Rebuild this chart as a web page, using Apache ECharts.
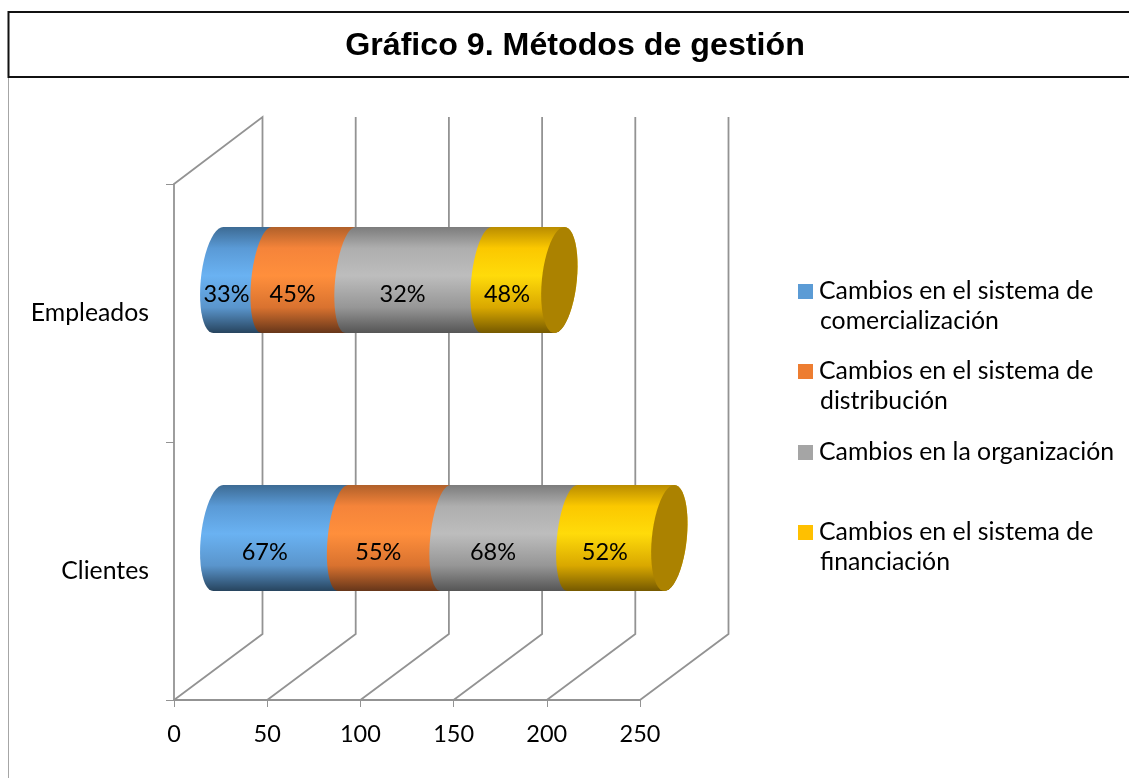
<!DOCTYPE html>
<html lang="es">
<head>
<meta charset="utf-8">
<title>Gráfico 9. Métodos de gestión</title>
<style>
  html, body { margin: 0; padding: 0; background: #fff; }
  #chart { width: 1129px; height: 778px; }
</style>
</head>
<body>
<div id="chart"></div>
<script src="https://cdn.jsdelivr.net/npm/echarts@6/dist/echarts.min.js"></script>
<script>
// Chart content
const chartTitle = 'Gráfico 9. Métodos de gestión';
const categories = ['Clientes', 'Empleados'];
const xTicks = [0, 50, 100, 150, 200, 250];

const seriesNames = [
  'Cambios en el sistema de comercialización',
  'Cambios en el sistema de distribución',
  'Cambios en la organización',
  'Cambios en el sistema de financiación'
];

// Bar lengths on the count axis, [Clientes, Empleados]
const comercializacion = [67, 26];
const distribucion = [55, 45];
const organizacion = [68, 73];
const financiacion = [52, 39];

// Share shown on each segment, [Clientes, Empleados]
const comercializacionPct = ['67%', '33%'];
const distribucionPct = ['55%', '45%'];
const organizacionPct = ['68%', '32%'];
const financiacionPct = ['52%', '48%'];

const seriesValues = [comercializacion, distribucion, organizacion, financiacion];
const seriesLabels = [comercializacionPct, distribucionPct, organizacionPct, financiacionPct];

// Legend wrapping: first line, continuation line
const legendWrap = [
  ['Cambios en el sistema de', 'comercialización'],
  ['Cambios en el sistema de', 'distribución'],
  ['Cambios en la organización', ''],
  ['Cambios en el sistema de', 'financiación']
];

// Styling
const FONT = 'Lato, "Open Sans", sans-serif';
const AXIS_COLOR = '#939393';
const legendColors = ['#5B9BD5', '#ED7D31', '#A5A5A5', '#FFC000'];
const cylinderStops = [
  ['#3d6b94', '#5a9ad6', '#6ab2f2', '#5a95cc', '#27445e'],
  ['#b0602a', '#f5843a', '#ff8f3c', '#d9722f', '#66361a'],
  ['#7c7c7c', '#aeaeae', '#bdbdbd', '#969696', '#555555'],
  ['#b98c00', '#fbc800', '#ffdb0a', '#d9a800', '#755900']
];
const CAP_COLOR = '#ab8200';

// Oblique projection of the floor and walls
const DEPTH_X = 88.5;
const DEPTH_Y = -66;
const RADIUS_X = 15.5;
const OUTER_RADIUS_X = 17.5;
const RADIUS_Y = 53;
const TILT = 5;

const GRID = { left: 174, top: 184, width: 466, height: 516 };
const LEGEND_LEFT = 798;
const legendIconTops = [282, 362, 443, 523];
const LEGEND_LINE_STEP = 31;

// Half an ellipse as points: side -1 is the left half, +1 the right, top to bottom
function halfEllipse(cx, cy, side, rx) {
  const pts = [];
  const n = 24;
  for (let i = 0; i <= n; i++) {
    const a = -Math.PI / 2 + (Math.PI * i) / n;
    const s = Math.sin(a);
    pts.push([cx + side * rx * Math.cos(a) - TILT * s, cy + RADIUS_Y * s]);
  }
  return pts;
}

function verticalGradient(colors) {
  return {
    type: 'linear', x: 0, y: 0, x2: 0, y2: 1, global: false,
    colorStops: [
      { offset: 0, color: colors[0] },
      { offset: 0.2, color: colors[1] },
      { offset: 0.46, color: colors[2] },
      { offset: 0.76, color: colors[3] },
      { offset: 1, color: colors[4] }
    ]
  };
}

// One cylinder segment per category, with the end cap on the last series
function cylinderSegment(seriesIndex, isLast) {
  return function (params, api) {
    const start = api.coord([api.value(1), api.value(0)]);
    const end = api.coord([api.value(2), api.value(0)]);
    const x0 = start[0] + DEPTH_X / 2;
    const x1 = end[0] + DEPTH_X / 2;
    const cy = start[1] + DEPTH_Y / 2;
    const leftRx = seriesIndex === 0 ? OUTER_RADIUS_X : RADIUS_X;
    const rightRx = isLast ? OUTER_RADIUS_X : RADIUS_X;
    const body = halfEllipse(x0, cy, -1, leftRx).concat(halfEllipse(x1, cy, 1, rightRx).reverse());
    const children = [{
      type: 'polygon',
      shape: { points: body },
      style: { fill: verticalGradient(cylinderStops[seriesIndex]) }
    }];
    if (isLast) {
      children.push({
        type: 'polygon',
        shape: { points: halfEllipse(x1, cy, -1, OUTER_RADIUS_X).concat(halfEllipse(x1, cy, 1, OUTER_RADIUS_X).reverse()) },
        style: { fill: CAP_COLOR }
      });
    }
    children.push({
      type: 'text',
      z2: 20,
      style: {
        text: seriesLabels[seriesIndex][params.dataIndex],
        x: (x0 + x1) / 2 - 16,
        y: cy + 14.5,
        align: 'center',
        verticalAlign: 'middle',
        fill: '#000',
        fontFamily: FONT,
        fontSize: 23.5
      }
    });
    return { type: 'group', children: children };
  };
}

// Floor and back-wall rule rising from each tick of the value axis
function wallLine(params, api) {
  const cs = params.coordSys;
  const x = api.coord([api.value(0), 0])[0];
  const bottom = cs.y + cs.height;
  const pts = [
    [x, bottom],
    [x + DEPTH_X, bottom + DEPTH_Y],
    [x + DEPTH_X, cs.y + DEPTH_Y - 1]
  ];
  if (api.value(0) === 0) pts.push([x, cs.y]);
  return {
    type: 'polyline',
    shape: { points: pts },
    style: { stroke: AXIS_COLOR, lineWidth: 1.8, fill: null }
  };
}

// Running totals turn the lengths into stacked [category, from, to] rows
const cumulative = categories.map(() => 0);
const cylinderSeries = seriesNames.map((name, s) => {
  const rows = categories.map((_, c) => {
    const from = cumulative[c];
    cumulative[c] += seriesValues[s][c];
    return [c, from, cumulative[c]];
  });
  return {
    type: 'custom',
    name: name,
    z: 5 + s,
    silent: true,
    coordinateSystem: 'cartesian2d',
    itemStyle: { color: legendColors[s] },
    encode: { y: 0, x: [1, 2] },
    data: rows,
    renderItem: cylinderSegment(s, s === seriesNames.length - 1)
  };
});

const legends = seriesNames.map((name, s) => ({
  show: true,
  left: LEGEND_LEFT,
  top: legendIconTops[s] - 3,
  orient: 'vertical',
  padding: 0,
  itemWidth: 15,
  itemHeight: 15,
  itemGap: 0,
  icon: 'rect',
  selectedMode: false,
  data: [{ name: name, itemStyle: { color: legendColors[s] } }],
  formatter: () => legendWrap[s][0],
  textStyle: { fontFamily: FONT, fontSize: 24.8, color: '#000', padding: [0, 0, 0, 1], lineHeight: 21 }
}));

// Legend continuation lines
const legendContinuations = legendWrap
  .map((lines, s) => ({ text: lines[1], s: s }))
  .filter(d => d.text)
  .map(d => ({
    type: 'text',
    left: 820,
    top: legendIconTops[d.s] + LEGEND_LINE_STEP - 4,
    style: { text: d.text, fill: '#000', fontFamily: FONT, fontSize: 24.8 },
    silent: true
  }));

const option = {
  animation: false,
  backgroundColor: '#fff',
  title: {
    text: chartTitle,
    left: 570,
    top: 25,
    textAlign: 'center',
    textStyle: { fontFamily: '"Liberation Sans", Arial, sans-serif', fontWeight: 'bold', fontSize: 32.2, color: '#000' }
  },
  grid: Object.assign({ containLabel: false }, GRID),
  xAxis: {
    type: 'value',
    min: 0,
    max: 250,
    interval: 50,
    axisLine: { show: true, lineStyle: { color: AXIS_COLOR, width: 1.8 } },
    axisTick: { show: true, length: 7, lineStyle: { color: AXIS_COLOR, width: 1 } },
    axisLabel: { margin: 22, color: '#000', fontFamily: FONT, fontSize: 23.5 },
    splitLine: { show: false }
  },
  yAxis: {
    type: 'category',
    data: categories,
    axisLine: { show: true, onZero: false, lineStyle: { color: AXIS_COLOR, width: 1.8 } },
    axisTick: { show: true, length: 8, lineStyle: { color: AXIS_COLOR, width: 1 } },
    axisLabel: { margin: 25, color: '#000', fontFamily: FONT, fontSize: 24.8, padding: [9, 0, 0, 0] },
    splitLine: { show: false }
  },
  legend: legends,
  graphic: [
    // Title band and the page frame
    { type: 'rect', silent: true, z: 0, shape: { x: 8.5, y: 12, width: 1130, height: 65 },
      style: { fill: null, stroke: '#111', lineWidth: 2 } },
    { type: 'line', silent: true, z: 0, shape: { x1: 8.5, y1: 78, x2: 8.5, y2: 778 },
      style: { stroke: '#a6a6a6', lineWidth: 1 } }
  ].concat(legendContinuations),
  series: [{
    type: 'custom',
    z: 1,
    silent: true,
    coordinateSystem: 'cartesian2d',
    encode: { x: 0 },
    data: xTicks.map(v => [v]),
    renderItem: wallLine
  }].concat(cylinderSeries)
};

const chart = echarts.init(document.getElementById('chart'), null, { renderer: 'canvas' });
chart.setOption(option);
</script>
</body>
</html>
